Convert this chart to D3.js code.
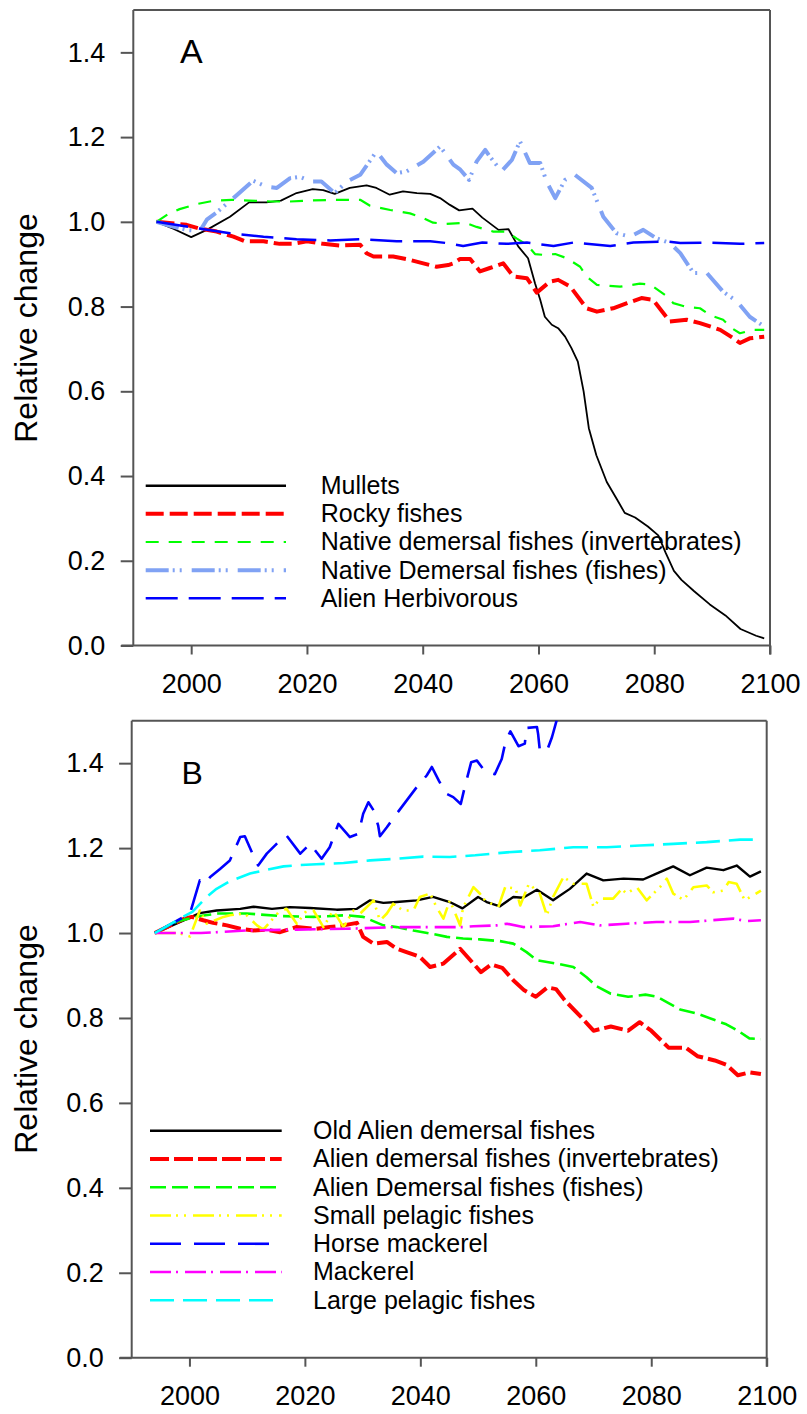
<!DOCTYPE html>
<html>
<head>
<meta charset="utf-8">
<script src="https://cdn.jsdelivr.net/npm/d3@7"></script>
<style>
  body { margin: 0; background: #fff; }
  text { font-family: "Liberation Sans", Arial, sans-serif; }
</style>
</head>
<body>
<div id="chart"></div>
<script>
// ---- data (year, relative change) ----
var yTicks = [0, 0.2, 0.4, 0.6, 0.8, 1.0, 1.2, 1.4]
var xTicks = [2000, 2020, 2040, 2060, 2080, 2100]

var namesA = ["Mullets", "Rocky fishes", "Native demersal fishes (invertebrates)",
  "Native Demersal fishes (fishes)", "Alien Herbivorous"]
var namesB = ["Old Alien demersal fishes", "Alien demersal fishes (invertebrates)",
  "Alien Demersal fishes (fishes)", "Small pelagic fishes", "Horse mackerel", "Mackerel",
  "Large pelagic fishes"]

var mullets = [[1994,1.0],[1997,0.983],[2000,0.964],[2002.7,0.981],[2006.7,1.012],[2010,1.046],[2013,1.046],
  [2015.5,1.05],[2018.2,1.068],[2021,1.077],[2022.8,1.075],[2024.8,1.066],[2027.4,1.08],[2030.3,1.086],[2032,1.08],
  [2034.3,1.064],[2036.6,1.072],[2039,1.068],[2041.3,1.066],[2043,1.056],[2044.7,1.040],[2046.3,1.027],[2048.6,1.031],
  [2050.3,1.010],[2053.1,0.981],[2054.8,0.983],[2056.5,0.942],[2058.2,0.914],[2059.4,0.855],[2060.3,0.816],
  [2061.1,0.776],[2062.3,0.757],[2063.4,0.749],[2064.6,0.729],[2065.7,0.702],[2066.8,0.67],[2067.8,0.60],
  [2068.7,0.513],[2070,0.449],[2071.8,0.386],[2073.6,0.344],[2074.9,0.313],[2076.7,0.302],[2078.9,0.281],
  [2080.7,0.26],[2082,0.218],[2083.4,0.176],[2084.7,0.155],[2086.9,0.128],[2089.6,0.097],[2092.3,0.071],
  [2094.9,0.039],[2097.6,0.023],[2099,0.017]]
var rockyFishes = [[1994,1.0],[1999.2,0.993],[2001.2,0.985],[2004.4,0.977],[2007.3,0.965],[2009.3,0.954],
  [2012.5,0.954],[2015.3,0.948],[2017.4,0.948],[2020,0.954],[2022.8,0.948],[2025.7,0.944],[2029.2,0.946],
  [2030.3,0.926],[2031.5,0.918],[2034.9,0.918],[2037.2,0.912],[2040.1,0.902],[2042.4,0.894],[2044.4,0.898],
  [2045.3,0.902],[2046.4,0.912],[2048.2,0.912],[2049.9,0.883],[2051.6,0.891],[2053.9,0.902],[2055.7,0.871],
  [2058,0.867],[2059.7,0.833],[2062,0.859],[2063.4,0.863],[2065.5,0.847],[2068.3,0.796],[2070.1,0.788],
  [2072.9,0.796],[2075.3,0.808],[2077.8,0.820],[2079.8,0.816],[2082.7,0.765],[2085.6,0.769],[2087.9,0.761],
  [2091.4,0.745],[2093.7,0.725],[2094.8,0.714],[2096.5,0.725],[2099,0.729]]
var nativeDemInv = [[1994,1.0],[1996,1.018],[1998,1.03],[2001,1.042],[2004,1.05],[2007,1.052],[2010,1.05],
  [2014,1.048],[2017,1.048],[2020,1.05],[2025,1.052],[2029.2,1.052],[2030.9,1.038],[2034.4,1.028],[2037.8,1.02],
  [2040.1,1.009],[2041.8,0.998],[2044.1,0.995],[2047.3,0.998],[2049.3,0.988],[2052.2,0.977],[2054.5,0.977],
  [2056.2,0.961],[2058,0.946],[2059.4,0.924],[2060.8,0.922],[2062.9,0.924],[2064.9,0.914],[2067.2,0.894],
  [2068.3,0.871],[2070.1,0.851],[2074.1,0.847],[2077.5,0.854],[2079.3,0.852],[2082.2,0.824],[2083.3,0.808],
  [2085.6,0.799],[2087.9,0.796],[2089.6,0.780],[2091.9,0.769],[2093.4,0.749],[2094.8,0.737],[2097.1,0.745],
  [2099,0.745]]
var nativeDemFish = [[1994,1.0],[1996.5,0.99],[1999.2,0.981],[2001.5,0.978],[2002.7,1.005],[2004.4,1.022],
  [2007.3,1.056],[2010.7,1.097],[2013,1.083],[2014.8,1.08],[2017.1,1.103],[2018.8,1.106],[2020.8,1.095],
  [2022.5,1.095],[2024.8,1.068],[2026.9,1.095],[2029.2,1.111],[2032,1.166],[2033.8,1.135],[2035.5,1.115],
  [2037.2,1.119],[2040.1,1.142],[2043,1.178],[2045.3,1.135],[2046.5,1.123],[2048,1.099],[2049.3,1.142],
  [2050.8,1.17],[2051.6,1.154],[2053.6,1.119],[2055.4,1.146],[2056.8,1.19],[2058.5,1.139],[2060.3,1.139],
  [2061.4,1.095],[2062.9,1.056],[2064.6,1.099],[2066.3,1.111],[2069.2,1.08],[2071.2,1.012],[2073.5,0.973],
  [2075.8,0.965],[2078.1,0.981],[2080.4,0.961],[2082.7,0.950],[2084.5,0.926],[2086.8,0.879],[2089.1,0.879],
  [2091.9,0.835],[2094.3,0.812],[2096.5,0.776],[2099,0.753]]
var alienHerb = [[1994,1.0],[2001,0.985],[2006.7,0.973],[2012.5,0.965],[2018.2,0.959],[2024,0.956],[2029.7,0.959],
  [2035.5,0.954],[2041.3,0.954],[2044.1,0.950],[2047,0.943],[2050.3,0.951],[2054.5,0.948],[2058,0.951],
  [2062.6,0.943],[2066,0.951],[2072.4,0.943],[2076.4,0.951],[2082.2,0.954],[2084.5,0.950],[2089.1,0.951],
  [2094.8,0.948],[2099,0.950]]

var oldAlienDem = [[1994,1.0],[1999,1.03],[2001.8,1.047],[2004.7,1.053],[2008.8,1.057],[2011.1,1.062],
  [2014.3,1.057],[2017.4,1.061],[2020.9,1.059],[2025.5,1.055],[2029,1.057],[2031.3,1.077],[2033.6,1.071],
  [2035.9,1.073],[2039.4,1.077],[2042.2,1.085],[2045.1,1.073],[2047.3,1.058],[2050,1.085],[2051.5,1.073],
  [2053.8,1.063],[2056.1,1.085],[2057.8,1.083],[2060.2,1.102],[2063,1.077],[2065.9,1.104],[2068.8,1.14],
  [2071.7,1.124],[2075.2,1.128],[2078.6,1.126],[2080.9,1.14],[2083.8,1.157],[2086.7,1.136],[2089.6,1.154],
  [2092.5,1.148],[2094.8,1.159],[2097.1,1.133],[2099,1.145]]
var alienDemInv = [[1994,1.0],[1997,1.02],[1999,1.033],[2000.4,1.038],[2002.4,1.03],[2004.1,1.024],[2006.5,1.018],
  [2008.8,1.01],[2011.1,1.006],[2013.4,1.008],[2015.7,1.002],[2018.5,1.014],[2022,1.01],[2024.3,1.014],
  [2026.7,1.018],[2029,1.024],[2030.1,0.991],[2031.9,0.975],[2034.2,0.979],[2035.9,0.963],[2037.6,0.955],
  [2039.9,0.944],[2041.7,0.92],[2044,0.928],[2046.9,0.963],[2049.2,0.928],[2050.5,0.908],[2052.3,0.926],
  [2054.2,0.918],[2056.1,0.889],[2058,0.865],[2060,0.85],[2062,0.872],[2063.5,0.868],[2065,0.842],[2068,0.80],
  [2070,0.77],[2073,0.78],[2076,0.77],[2078,0.79],[2080,0.77],[2083,0.73],[2086,0.73],[2088,0.71],[2091,0.70],
  [2093,0.69],[2095,0.665],[2097,0.672],[2099,0.668]]
var alienDemFish = [[1994,1.0],[1998,1.028],[2001.8,1.04],[2005,1.046],[2009.9,1.046],[2015.7,1.04],[2021.5,1.038],
  [2027.2,1.042],[2030.1,1.038],[2033.6,1.018],[2035.9,1.014],[2038.8,1.006],[2041.7,0.999],[2044.6,0.991],
  [2047.4,0.987],[2050.3,0.985],[2053.8,0.981],[2056.1,0.975],[2058.4,0.955],[2060.2,0.936],[2063.6,0.928],
  [2066.5,0.92],[2068.8,0.896],[2070.5,0.875],[2073,0.857],[2076,0.85],[2079,0.855],[2081,0.85],[2083,0.835],
  [2085,0.82],[2088,0.81],[2091,0.795],[2093,0.785],[2095,0.77],[2097,0.752],[2099,0.75]]
var smallPelagic = [[1994,1.0],[1998,1.0],[2000.1,0.992],[2001.8,1.053],[2003,1.022],[2005.9,1.038],[2007,1.042],
  [2009.6,1.046],[2011.7,1.018],[2012.8,1.008],[2015.5,1.05],[2016.8,1.057],[2018.6,1.022],[2020.3,1.053],
  [2021.5,1.053],[2023.2,1.014],[2024.9,1.053],[2026.7,1.014],[2028.4,1.053],[2029.6,1.046],[2031.9,1.077],
  [2033,1.029],[2034.2,1.046],[2035.3,1.069],[2037,1.053],[2038.8,1.053],[2039.9,1.085],[2041.7,1.093],
  [2042.8,1.061],[2044,1.034],[2045.1,1.077],[2046.9,1.018],[2047.4,1.06],[2049.2,1.108],[2050.3,1.093],
  [2051.2,1.077],[2053.5,1.061],[2054.7,1.108],[2056.5,1.105],[2057.3,1.065],[2058.8,1.116],[2060.7,1.093],
  [2061.9,1.042],[2063,1.085],[2064.8,1.132],[2066.5,1.116],[2068.8,1.116],[2070,1.061],[2071.1,1.081],
  [2073.4,1.081],[2074.9,1.104],[2075.7,1.093],[2077.5,1.108],[2079.2,1.077],[2081.5,1.108],[2082.7,1.128],
  [2083.8,1.093],[2085.6,1.078],[2087.3,1.108],[2089.6,1.112],[2090.7,1.096],[2092.5,1.1],[2093.4,1.12],
  [2094.8,1.116],[2096.2,1.077],[2099,1.1]]
var horseMackerel = [[1994,1.0],[2000.1,1.046],[2001.8,1.124],[2002.7,1.116],[2003.6,1.132],[2005.3,1.151],
  [2007,1.171],[2008.8,1.226],[2009.6,1.228],[2010.8,1.191],[2011.9,1.159],[2013.4,1.187],[2015.1,1.21],
  [2016.8,1.23],[2019.2,1.187],[2020.9,1.21],[2022.9,1.175],[2024.3,1.202],[2025.8,1.257],[2027.8,1.226],
  [2029.3,1.234],[2030.1,1.281],[2031,1.308],[2031.9,1.289],[2032.7,1.253],[2033,1.228],[2034.2,1.249],
  [2035.9,1.281],[2039.4,1.344],[2041.1,1.371],[2042,1.391],[2043.2,1.359],[2044.5,1.328],[2045.7,1.32],
  [2047,1.304],[2047.7,1.344],[2048.8,1.402],[2049.8,1.406],[2051.3,1.379],[2052.9,1.374],[2054.1,1.41],
  [2054.8,1.453],[2055.6,1.475],[2057,1.44],[2058.1,1.446],[2058.4,1.483],[2060.2,1.485],[2060.4,1.469],
  [2060.7,1.43],[2061.9,1.428],[2062.8,1.461],[2063.6,1.5],[2064.5,1.56]]
var mackerel = [[1994,1.0],[2002,1.0],[2009.9,1.006],[2018.6,1.008],[2027.2,1.01],[2035.9,1.014],[2043.4,1.014],
  [2047.4,1.014],[2049.2,1.016],[2053.2,1.018],[2055,1.022],[2057.8,1.014],[2063,1.016],[2067.7,1.026],
  [2071.1,1.018],[2075.7,1.022],[2080.9,1.026],[2086.7,1.026],[2094.2,1.034],[2096.5,1.028],[2099,1.03]]
var largePelagic = [[1994,1.0],[1998.9,1.038],[2000.5,1.05],[2003,1.085],[2004.7,1.104],[2007,1.122],
  [2010.5,1.14],[2013,1.148],[2016.3,1.157],[2019,1.16],[2022,1.162],[2026.7,1.165],[2031.3,1.171],
  [2035.9,1.175],[2040.5,1.18],[2045.1,1.179],[2049.5,1.183],[2055,1.19],[2060.7,1.195],[2066.5,1.202],
  [2072.3,1.202],[2078,1.206],[2083.8,1.21],[2089.6,1.214],[2095.4,1.22],[2099,1.22]]

// ---- styles ----
var stylesA = [
  { values: mullets, color: "#000000", width: 1.8, legendWidth: 2.6, dash: null },
  { values: rockyFishes, color: "#ff0000", width: 4, dash: "18,6" },
  { values: nativeDemInv, color: "#00ff00", width: 2.2, dash: "13,10" },
  { values: nativeDemFish, color: "#80a2f4", width: 4, dash: "23,4,2,5,2,10" },
  { values: alienHerb, color: "#0000ff", width: 2.5, dash: "32,11" }
]
var stylesB = [
  { values: oldAlienDem, color: "#000000", width: 2.4, dash: null },
  { values: alienDemInv, color: "#ff0000", width: 4, dash: "19,5" },
  { values: alienDemFish, color: "#00ff00", width: 2.6, dash: "16,6" },
  { values: smallPelagic, color: "#ffff00", width: 2.6, dash: "21,5,2,6,2,7" },
  { values: horseMackerel, color: "#0000ff", width: 2.6, dash: "31,13" },
  { values: mackerel, color: "#ff00ff", width: 2.6, dash: "21,5,2,7" },
  { values: largePelagic, color: "#00ffff", width: 2.6, dash: "24,9" }
]

var panels = [
  { id: "A", names: namesA, series: stylesA, left: 133.3, right: 770, top: 10, bottom: 645.5,
    letterX: 180, letterY: 62.5, letterSize: 34, titleY: 328,
    legX0: 145.7, legX1: 286, legText: 320.7, legY0: 485.7, legStep: 28.15 },
  { id: "B", names: namesB, series: stylesB, left: 131.7, right: 766.7, top: 720.7, bottom: 1357.7,
    letterX: 181.5, letterY: 784.3, letterSize: 32, titleY: 1039,
    legX0: 150, legX1: 281.7, legText: 313, legY0: 1130.7, legStep: 28.27 }
]

var svg = d3.select("#chart").append("svg").attr("width", 807).attr("height", 1414)
var axisColor = "#555"

panels.forEach(function (p) {
  var x = d3.scaleLinear().domain([1990, 2100]).range([p.left, p.right])
  var y = d3.scaleLinear().domain([0, 1.5]).range([p.bottom, p.top])

  var g = svg.append("g")

  // clip so lines that leave the box get cut
  g.append("clipPath").attr("id", "clip" + p.id)
    .append("rect").attr("x", p.left).attr("y", p.top)
    .attr("width", p.right - p.left).attr("height", p.bottom - p.top)

  // y axis ticks + labels
  var yAxis = g.append("g").attr("transform", "translate(" + p.left + ",0)")
    .call(d3.axisLeft(y).tickValues(yTicks).tickFormat(d3.format(".1f"))
      .tickSize(12.6).tickPadding(15.4).tickSizeOuter(0))
  yAxis.select(".domain").remove()
  yAxis.selectAll("line").attr("stroke", axisColor).attr("stroke-width", 2)
  yAxis.selectAll("text").attr("fill", "#000")
    .style("font-family", "'Liberation Sans', Arial, sans-serif").style("font-size", "27px")

  // x axis ticks + labels
  var xAxis = g.append("g").attr("transform", "translate(0," + p.bottom + ")")
    .call(d3.axisBottom(x).tickValues(xTicks).tickFormat(d3.format("d")).tickSize(9).tickSizeOuter(0))
  xAxis.select(".domain").remove()
  xAxis.selectAll("line").attr("stroke", axisColor).attr("stroke-width", 2)
  xAxis.selectAll("text").attr("fill", "#000").attr("y", 47.6).attr("dy", null)
    .style("font-family", "'Liberation Sans', Arial, sans-serif").style("font-size", "27px")

  // frame
  g.append("line").attr("x1", p.left).attr("x2", p.left).attr("y1", p.top).attr("y2", p.bottom)
    .attr("stroke", axisColor).attr("stroke-width", 2)
  g.append("line").attr("x1", p.left - 12).attr("x2", p.right).attr("y1", p.bottom).attr("y2", p.bottom)
    .attr("stroke", axisColor).attr("stroke-width", 2)
  g.append("line").attr("x1", p.left).attr("x2", p.right).attr("y1", p.top).attr("y2", p.top)
    .attr("stroke", axisColor).attr("stroke-width", 2)
  g.append("line").attr("x1", p.right).attr("x2", p.right).attr("y1", p.top).attr("y2", p.bottom + 9)
    .attr("stroke", axisColor).attr("stroke-width", 2)

  // axis title
  g.append("text")
    .attr("transform", "translate(37," + p.titleY + ") rotate(-90)")
    .attr("text-anchor", "middle")
    .style("font-size", "32px")
    .text("Relative change")

  // panel letter
  g.append("text").attr("x", p.letterX).attr("y", p.letterY)
    .style("font-size", p.letterSize + "px").text(p.id)

  // lines
  var line = d3.line().x(function (d) { return x(d[0]) }).y(function (d) { return y(d[1]) })
  var lines = g.append("g").attr("clip-path", "url(#clip" + p.id + ")")
  p.series.forEach(function (s) {
    lines.append("path").datum(s.values)
      .attr("d", line)
      .attr("fill", "none")
      .attr("stroke", s.color)
      .attr("stroke-width", s.width)
      .attr("stroke-dasharray", s.dash)
      .attr("stroke-linejoin", "round")
  })

  // legend
  p.series.forEach(function (s, i) {
    var ly = p.legY0 + i * p.legStep
    g.append("line").attr("x1", p.legX0).attr("x2", p.legX1).attr("y1", ly).attr("y2", ly)
      .attr("stroke", s.color).attr("stroke-width", s.legendWidth || s.width)
      .attr("stroke-dasharray", s.dash)
    g.append("text").attr("x", p.legText).attr("y", ly + 8.4)
      .style("font-size", "25px").text(p.names[i])
  })
})
</script>
</body>
</html>
